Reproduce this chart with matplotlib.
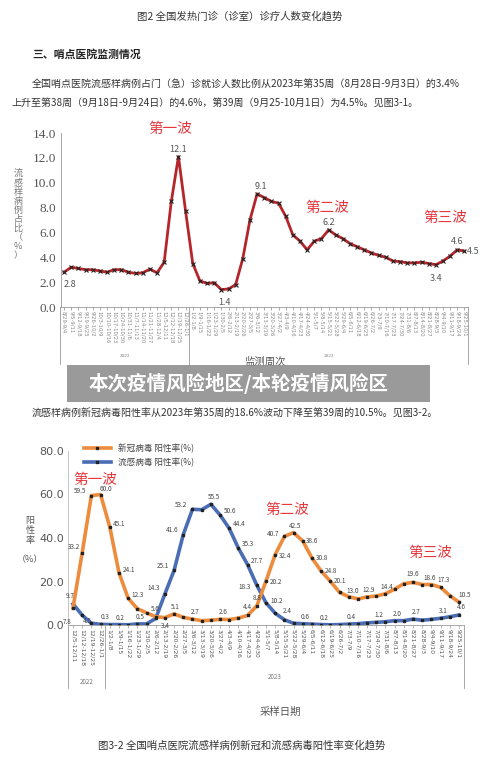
import matplotlib
matplotlib.use("Agg")
import matplotlib.pyplot as plt
from matplotlib.patches import Rectangle

plt.rcParams['font.family'] = ['Noto Sans CJK SC', 'DejaVu Sans']

# ---------------- data ----------------
weeks_2022_early = ["8/29-9/4", "9/5-9/11", "9/12-9/18", "9/19-9/25", "9/26-10/2", "10/3-10/9",
                    "10/10-10/16", "10/17-10/23", "10/24-10/30", "10/31-11/6", "11/7-11/13",
                    "11/14-11/20", "11/21-11/27", "11/28-12/4"]
weeks_b = ["12/5-12/11", "12/12-12/18", "12/19-12/25", "12/26-1/1", "1/2-1/8", "1/9-1/15",
           "1/16-1/22", "1/23-1/29", "1/30-2/5", "2/6-2/12", "2/13-2/19", "2/20-2/26",
           "2/27-3/5", "3/6-3/12", "3/13-3/19", "3/20-3/26", "3/27-4/2", "4/3-4/9",
           "4/10-4/16", "4/17-4/23", "4/24-4/30", "5/1-5/7", "5/8-5/14", "5/15-5/21",
           "5/22-5/28", "5/29-6/4", "6/5-6/11", "6/12-6/18", "6/19-6/25", "6/26-7/2",
           "7/3-7/9", "7/10-7/16", "7/17-7/23", "7/24-7/30", "7/31-8/6", "8/7-8/13",
           "8/14-8/20", "8/21-8/27", "8/28-9/3", "9/4-9/10", "9/11-9/17", "9/18-9/24",
           "9/25-10/1"]
weeks_top = weeks_2022_early + weeks_b

ili_pct = [2.8, 3.2, 3.1, 3.0, 3.0, 2.9, 2.8, 3.0, 3.0, 2.8, 2.7, 2.75, 3.05, 2.75,
           3.6, 8.5, 12.1, 7.7, 3.5, 2.1, 1.9, 1.95, 1.4, 1.45, 1.8, 3.9, 7.0, 9.1,
           8.8, 8.5, 8.35, 7.3, 5.8, 5.3, 4.6, 5.3, 5.5, 6.2, 5.8, 5.5, 5.1, 4.85,
           4.6, 4.35, 4.15, 4.0, 3.7, 3.65, 3.55, 3.55, 3.6, 3.5, 3.4, 3.7, 4.1, 4.6, 4.5]

covid = [7.8, 33.2, 59.5, 60.0, 45.1, 24.1, 12.3, 7.5, 5.6, 3.8, 3.4, 5.1, 3.5, 2.7,
         2.0, 2.2, 2.6, 2.5, 3.2, 4.4, 8.8, 20.2, 32.4, 40.7, 42.5, 38.6, 30.8, 24.8,
         20.1, 15.0, 13.0, 12.0, 12.9, 13.3, 14.4, 16.5, 19.0, 19.6, 18.6, 18.6, 17.3,
         13.5, 10.5]
flu = [9.7, 4.5, 0.8, 0.3, 0.2, 0.2, 0.1, 0.5, 0.5, 3.0, 14.3, 25.1, 41.6, 53.2, 53.0,
       55.5, 50.6, 44.4, 35.3, 27.7, 18.3, 10.2, 5.4, 2.4, 0.8, 0.6, 0.4, 0.2, 0.1, 0.2,
       0.4, 0.6, 1.0, 1.2, 1.5, 2.0, 2.0, 2.7, 2.2, 2.6, 3.1, 3.8, 4.6]

W, H = 500, 767
fig = plt.figure(figsize=(5, 7.67), dpi=100)
fig.patch.set_facecolor('white')

def fx(x): return x / W
def fy(y): return 1 - y / H

TXT = '#333333'
GR = '#555555'
RED = '#e8363c'

# ---------------- page text ----------------
fig.text(fx(240), fy(16), "图2 全国发热门诊（诊室）诊疗人数变化趋势", ha='center', va='center', fontsize=7.5, color=TXT)
fig.text(fx(32), fy(55), "三、哨点医院监测情况", ha='left', va='center', fontsize=7.8, color='#222222', fontweight='bold')
fig.text(fx(32), fy(84), "全国哨点医院流感样病例占门（急）诊就诊人数比例从2023年第35周（8月28日-9月3日）的3.4%",
         ha='left', va='center', fontsize=7.2, color=TXT)
fig.text(fx(11), fy(103), "上升至第38周（9月18日-9月24日）的4.6%，第39周（9月25-10月1日）为4.5%。见图3-1。",
         ha='left', va='center', fontsize=7.2, color=TXT)
fig.text(fx(32), fy(414), "流感样病例新冠病毒阳性率从2023年第35周的18.6%波动下降至第39周的10.5%。见图3-2。",
         ha='left', va='center', fontsize=7.2, color=TXT)
fig.text(fx(280), fy(712), "采样日期", ha='center', va='center', fontsize=7.5, color=GR)
fig.text(fx(242), fy(745), "图3-2 全国哨点医院流感样病例新冠和流感病毒阳性率变化趋势", ha='center', va='center', fontsize=7.5, color=TXT)

# ---------------- top chart ----------------
ax1 = fig.add_axes([fx(60.5), fy(307), fx(468) - fx(60.5), (307 - 133) / H])
x1 = list(range(len(ili_pct)))
ax1.plot(x1, ili_pct, color='#b5262b', lw=2.0, zorder=2)
ax1.plot(x1, ili_pct, ls='none', marker='x', ms=3, mew=0.8, color='#222222', zorder=3)
ax1.set_xlim(-0.5, len(ili_pct) - 0.5)
ax1.set_ylim(0, 14)
ax1.set_yticks([0, 2, 4, 6, 8, 10, 12, 14])
ax1.set_yticklabels([f"{v:.1f}" for v in [0, 2, 4, 6, 8, 10, 12, 14]], family='Liberation Serif', fontsize=9.5, color=GR)
ax1.set_xticks(x1)
ax1.set_xticklabels(weeks_top, rotation=-90, fontsize=3.8, color='#888888', family='DejaVu Sans')
ax1.tick_params(axis='x', length=2, width=0.5, color='#888888', pad=1)
ax1.tick_params(axis='y', length=0, pad=3)
for s in ['top', 'right']:
    ax1.spines[s].set_visible(False)
ax1.spines['left'].set_color('#999999')
ax1.spines['bottom'].set_color('#999999')
ax1.spines['left'].set_linewidth(0.6)
ax1.spines['bottom'].set_linewidth(0.6)
for xv in [-0.5, 17.5, len(ili_pct) - 0.5]:
    ax1.plot([xv, xv], [0, -0.33], transform=ax1.get_xaxis_transform(), color='#999999', lw=0.6, clip_on=False)
ax1.text(8.5, -0.29, "2022", transform=ax1.get_xaxis_transform(), ha='center', fontsize=3.8, color='#777777', family='Liberation Serif')
ax1.text(37, -0.29, "2023", transform=ax1.get_xaxis_transform(), ha='center', fontsize=3.8, color='#777777', family='Liberation Serif')
fig.text(fx(265), fy(362), "监测周次", ha='center', va='center', fontsize=7.5, color=GR)
fig.text(fx(18), fy(215), "\n".join("流感样病例占比") + "\n（\n%\n）", ha='center', va='center',
         fontsize=6.5, color='#777777', linespacing=1.0)
for i, dx, dy in [(0, 4, -9), (16, 0, 5), (22, 2, -9), (27, 3, 5), (37, 0, 5), (52, 0, -10), (55, 0, 6), (56, 6, 0)]:
    ax1.annotate(f"{ili_pct[i]:.1f}", (i, ili_pct[i]), xytext=(dx, dy), textcoords='offset points',
                 ha='center', va='center', fontsize=6.5, color=GR)
for t, x, y in [("第一波", 170, 129), ("第二波", 327, 208), ("第三波", 445, 218)]:
    fig.text(fx(x), fy(y), t, ha='center', va='center', fontsize=10.5, color=RED)

# ---------------- bottom chart ----------------
ax2 = fig.add_axes([fx(68.4), fy(625), fx(463.6) - fx(68.4), (625 - 451) / H])
x2 = list(range(len(covid)))
ax2.plot(x2, covid, color='#ec8c3c', lw=2.6, marker='s', ms=2, mfc='#222222', mec='#222222',
         label="新冠病毒 阳性率(%)", zorder=3)
ax2.plot(x2, flu, color='#4a6db5', lw=2.6, marker='s', ms=2, mfc='#222222', mec='#222222',
         label="流感病毒 阳性率(%)", zorder=2)
ax2.set_xlim(-0.5, len(covid) - 0.5)
ax2.set_ylim(0, 80)
ax2.set_yticks([0, 20, 40, 60, 80])
ax2.set_yticklabels([f"{v:.1f}" for v in [0, 20, 40, 60, 80]], fontsize=8, color=GR, family='DejaVu Sans')
ax2.set_xticks(x2)
ax2.set_xticklabels(weeks_b, rotation=-90, fontsize=4.3, color=GR, family='DejaVu Sans')
ax2.tick_params(axis='x', length=2, width=0.5, color='#999999', pad=1)
ax2.tick_params(axis='y', length=0, pad=3)
for s in ['top', 'right']:
    ax2.spines[s].set_visible(False)
ax2.spines['left'].set_color('#bbbbbb')
ax2.spines['bottom'].set_color('#999999')
ax2.spines['left'].set_linewidth(0.6)
ax2.spines['bottom'].set_linewidth(0.6)
for xv in [-0.5, 3.5, len(covid) - 0.5]:
    ax2.plot([xv, xv], [0, -0.36], transform=ax2.get_xaxis_transform(), color='#999999', lw=0.6, clip_on=False)
ax2.text(1.5, -0.34, "2022", transform=ax2.get_xaxis_transform(), ha='center', fontsize=4.5, color='#777777')
ax2.text(22, -0.31, "2023", transform=ax2.get_xaxis_transform(), ha='center', fontsize=4.5, color='#777777')
leg = ax2.legend(loc='upper left', bbox_to_anchor=(0.03, 1.06), frameon=False, fontsize=6.2,
                 handlelength=3.2, labelspacing=0.5, borderaxespad=0)
for t in leg.get_texts():
    t.set_color('#444444')
fig.text(fx(30), fy(540), "阳\n性\n率\n\n（%）", ha='center', va='center', fontsize=6.5, color=GR, linespacing=1.1)

covid_lab = [(0, -4, -10), (1, -6, 4), (2, -8, 3), (3, 4, 4), (4, 7, 2), (5, 7, 2), (6, 7, 2), (8, 6, 3),
             (10, 0, -6), (11, 1, 5), (13, 2, 5), (16, 2, 5), (19, 0, 6), (20, 0, 6), (21, 7, -1),
             (22, 7, -1), (23, -8, 2), (24, 1, 5), (25, 7, 0), (26, 7, 0), (27, 7, 0), (28, 7, 0),
             (30, 3, 4), (32, 1, 5), (34, 1, 5), (37, 0, 6), (39, -1, 5), (40, 2, 5), (42, 4, 5)]
flu_lab = [(0, -2, 6), (1, 4, -4), (3, 3, 5), (5, 1, 5), (7, 2, 5), (10, -8, 4), (11, -8, 3), (12, -8, 3),
           (13, -8, 3), (15, 2, 5), (16, 7, 3), (17, 7, 3), (18, 7, 3), (19, 7, 3), (20, -9, -1),
           (21, 8, 1), (23, 2, 6), (25, 2, 5), (27, 2, 5), (30, 2, 5), (33, 2, 5), (35, 2, 5), (37, 2, 5),
           (40, 2, 5), (42, 2, 6)]
for i, dx, dy in covid_lab:
    ax2.annotate(f"{covid[i]:.1f}", (i, covid[i]), xytext=(dx, dy), textcoords='offset points',
                 ha='center', va='center', fontsize=4.6, color='#444444', zorder=5)
for i, dx, dy in flu_lab:
    ax2.annotate(f"{flu[i]:.1f}", (i, flu[i]), xytext=(dx, dy), textcoords='offset points',
                 ha='center', va='center', fontsize=4.6, color='#444444', zorder=5)
for t, x, y in [("第一波", 95, 480), ("第二波", 287, 510), ("第三波", 430, 553)]:
    fig.text(fx(x), fy(y), t, ha='center', va='center', fontsize=10.5, color=RED)

# ---------------- overlay banner ----------------
fig.patches.append(Rectangle((fx(67), fy(402)), fx(430) - fx(67), (402 - 365) / H,
                             transform=fig.transFigure, facecolor='#8f8f8f', alpha=0.9,
                             edgecolor='none', zorder=10))
fig.text(fx(239), fy(383), "本次疫情风险地区/本轮疫情风险区", ha='center', va='center',
         fontsize=14, color='white', fontweight='bold', zorder=11)

fig.savefig("out.png", dpi=100, facecolor='white')
